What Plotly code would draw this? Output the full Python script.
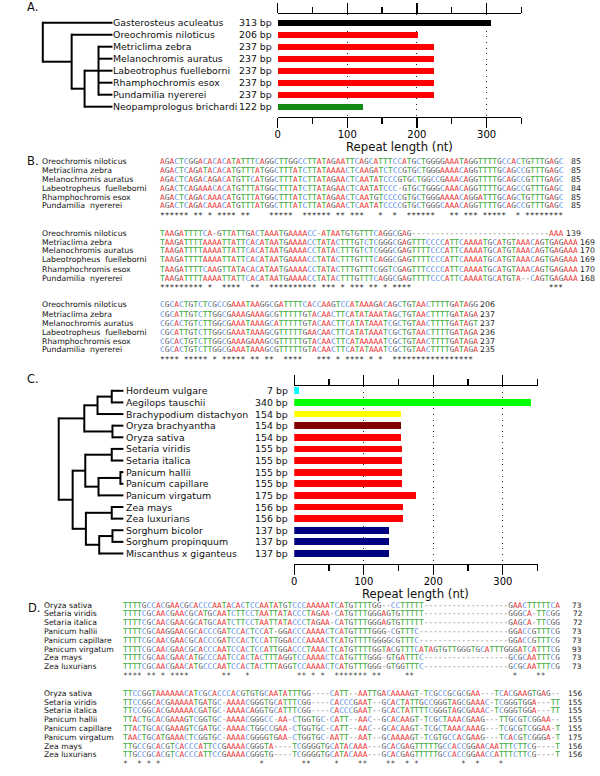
import plotly.graph_objects as go

W, H = 600, 776
SANS = "DejaVu Sans"
MONO = "DejaVu Sans Mono"

# ---------------- Panel A data ----------------
a_species = ["Gasterosteus aculeatus", "Oreochromis niloticus", "Metriclima zebra",
             "Melanochromis auratus", "Labeotrophus fuelleborni", "Rhamphochromis esox",
             "Pundamilia nyererei", "Neopamprologus brichardi"]
a_bp_labels = [313, 206, 237, 237, 237, 237, 237, 122]
a_bar_len = [306, 202, 224, 224, 224, 224, 224, 122]   # bar lengths as drawn in the picture
a_colors = ["#000000", "#ff0000", "#ff0000", "#ff0000", "#ff0000", "#ff0000", "#ff0000", "#118811"]
# tree topology: (node depth px, children); ints are leaf rows
a_tree = (40, [0, (69, [1, (82, [(96, [2, 3, 4, 5, 6]), 7])])])

# ---------------- Panel C data ----------------
c_species = ["Hordeum vulgare", "Aegilops tauschii", "Brachypodium distachyon", "Oryza brachyantha",
             "Oryza sativa", "Setaria viridis", "Setaria italica", "Panicum hallii",
             "Panicum capillare", "Panicum virgatum", "Zea mays", "Zea luxurians",
             "Sorghum bicolor", "Sorghum propinquum", "Miscanthus x giganteus"]
c_bp = [7, 340, 154, 154, 154, 155, 155, 155, 155, 175, 156, 156, 137, 137, 137]
c_colors = ["#00ffff", "#00ff00", "#ffff00", "#800000"] + ["#ff0000"] * 8 + ["#000080"] * 3
c_tree = (56, [(81.7, [(95, [(109.3, [0, 1]), 2]), (110, [3, 4])]),
               (70, [(82.7, [(109.3, [5, 6]), (96, [(118, [7, 8]), 9])]),
                     (83.3, [(109.3, [10, 11]), (96.7, [(110, [12, 13]), 14])])])])

tick_vals = [0, 100, 200, 300]

# ---------------- Panel B data ----------------
b_names = ["Oreochromis niloticus", "Metriaclima zebra", "Melanochromis auratus",
           "Labeotropheus  fuelleborni", "Rhamphochromis esox", "Pundamilia  nyererei"]
b_block1 = [
    "AGACTCGGACACACATATTTCAGGCTTG" + "GCCTTATAGAATTCAGCATTTCCATGCTGGGGAAATAGGTTTTGCCACTGTTTGAGC",
    "AGACTCAGATACACATGTTTATGGCTTT" + "ATCTTATAAAACTCAAGATCTCCGTGCTGGGAAAACAGGTTTTGCAGCCGTTTGAGC",
    "AGACTCAGACAGACATGTTCATGGCTTT" + "ATCTTATAGAACTCAATATCCCGTGCTGGCCGAAACAGGTTTTGCAGCCGTTTGAGC",
    "AGACTCAGAAACACATGTTTATGGCTTT" + "ATCTTATAGAACTCAATATCCC-GTGCTGGGCAAACAGGTTTTGCAGCCGTTTGAGC",
    "AGACTCAGACAAACATGTTTATGGCTTT" + "ATCTTATAGAACTCAATGTCCCCGTGCTGGGAAAACAGGATTTGCAGCTGTTTGAGC",
    "AGACTCAGACAAACATGTTTATGGCTTT" + "ATCTTATAGAACTCAATATCCCCGTGCTGGGCAAACAGGTTTTGCAGCCGTTTGAGC",
]
b_block1_end = [85, 85, 85, 84, 85, 85]
b_block1_stars = [(0, 5), (7, 8), (10, 10), (12, 15), (17, 18), (23, 27), (30, 35), (37, 38),
                  (40, 42), (46, 46), (49, 49), (52, 57), (61, 62), (64, 66), (68, 72), (75, 75), (77, 84)]
b_block2 = [
    "TAAGATTTTCA-GTTATTGACTAAATGA" + "AAACC-ATAATGTGTTTCAGGCGAG" + "-----------------------------" + "AAA",
    "TAAGATTTTAAAATTATTCACATAATGA" + "AAACCTATACTTTGTCTCGGGCGAG" + "TTTCCCCATTCAAAATGCATGTAAACAGTGAGAAA",
    "TAAGATTTTAAAATTATTCACATAATGA" + "AAACCTATACTTTGTCTCGGGCGAG" + "TTTTCCCATTCAAAATGCATGTAAACAGTGAGAAA",
    "TAAGATTTTAAAATTATTCACATAATGA" + "AAACCTATACTTTGTTTCAGGCGAG" + "TTTTCCCATTCAAAATGCATGTAAACAGTGAGAAA",
    "TAAGATTTTCAAGTTATACACATAATGA" + "AAACCTATACTTTGTTTCGGTCGAG" + "TTTCCCCATTCAAAATGCATGTAAACAGTGAGAAA",
    "TAAGATTTTAAAATTATTCACATAATGA" + "AAACCTATACTTTGTTTCAGGCGAG" + "TTTTCCCATTCAAAATGCATGTA--CAGTGAGAAA",
]
b_block2_end = [139, 169, 170, 169, 170, 168]
b_block2_stars = [(0, 8), (10, 10), (13, 16), (19, 20), (23, 32), (34, 36), (38, 38), (40, 42),
                  (44, 45), (47, 47), (49, 52), (82, 84)]
b_block3 = [
    "CGCACTGTCTCGCCGAAATAAGGCGATT" + "TTCACCAAGTCCATAAAGACAGCTGTAACTTTTGATAGG",
    "CGCATTGTCTTGGCGAAAGAAAGCGTTT" + "TTGTACAACTTCATATAAATAGCTGTAACTTTTGATAGA",
    "CGCACTGTCTTGGCGAAATAAAGCATTT" + "TTGTACAACTTCATATAAATCGCTGTAACTTTTGATAGT",
    "CGCATTGTCTTGGCGAAATAAAGCGTTT" + "TTGAACAACTTCATATAAATCGCTGTAACTTTTGATAGA",
    "CGCACTGTCTTGGCGAAAGAAAGCGTTT" + "TTGTACAACTTCATAAAAATCGCTGTAACTTTTGATAGA",
    "CGCACTGTCTTGGCGAAATAAAGCGTTT" + "TTGTACAACTTCATATAAATCGCTGTAACTTTTGATAGA",
]
b_block3_end = [206, 237, 237, 236, 237, 235]
b_block3_stars = [(0, 3), (5, 9), (11, 11), (13, 17), (19, 20), (22, 23), (26, 29), (33, 35),
                  (37, 37), (39, 42), (44, 44), (46, 46), (49, 65)]

# ---------------- Panel D data ----------------
d_names = ["Oryza sativa", "Setaria viridis", "Setaria italica", "Panicum hallii",
           "Panicum capillare", "Panicum virgatum", "Zea mays", "Zea luxurians"]
d_block1 = [
    "TTTTGCCACGAACGCACCCAATACACTCCAATATGT" + "CCCAAAAATCATGTTTTGG--CCTTTTT" + "------------------" + "GAACTTTTTCA",
    "TTTTCGCAACGAACGCATGCAATCTTCCTAATTATA" + "CCCTAGAA-CATGTTTGGGAGTGTTTTT" + "------------------" + "GGGCA-TTCGG",
    "TTTTCGCAACGAACGCATGCAATCTTCCTAATTATA" + "CCCTAGAA-CATGTTTGGGAGTGTTTTT" + "------------------" + "GAGCA-TTCGG",
    "TTTTCGCAAGGAACGCACCCGATCCACTCCAT-GGA" + "CCCAAAACTCATGTTTTGGG-CGTTTC" + "-------------------" + "GGACCGTTTCG",
    "TTTTCGCAACGAACGCACCCGATCCACTCCATTGGA" + "CCCAAAACTCATGTTTTGGGGCGTTTC" + "-------------------" + "GGACCGTTTCG",
    "TTTTCGCAACGAACGCACCCAATCCACTCCATTGGA" + "CCCTAAACTCATGTTTTGGTACGTTTCATAGTGTTGGGTGCATTTGGGATCATTTCG",
    "TTTTCGCAACGAACATGCCCAATCCACTACTTTAGG" + "TCCAAAACTCATGTTTGGG-GTGATTTC" + "------------------" + "GCGCAATTTCG",
    "TTTTCGCAACGAACATGCCCAATCCACTACTTTAGG" + "TCCAAAACTCATGTTTGGG-GTGGTTTC" + "------------------" + "GCGCAATTTCG",
]
d_block1_end = [73, 72, 72, 73, 73, 93, 73, 73]
d_block1_stars = [(0, 3), (5, 6), (8, 8), (10, 13), (21, 22), (26, 26), (37, 38), (40, 40), (42, 42),
                  (45, 51), (53, 54), (60, 61), (83, 83), (88, 89)]
d_block2 = [
    "TTCCGGTAAAAAACATCGCACCCACGTGTGCAATAT" + "TTGG----CATT--AATTGACAAAAGT-TCGCCGCGCGAA---TCACGAAGTGAG--",
    "TTCCGGCACGAAAAATGATGC-AAAACGGGTGCATT" + "TCGG----CACCCGAAT--GCACTATTGCCGGGTAGCGAAAC-TCGGGTGGA---TT",
    "TTCCGGCACGAAAAACGATGC-AAAACAGGTGCATT" + "TCGG----CACCCGAAT--GCACTATTTTCGGGTAGCGAAAC-TCGGGTGGA---TT",
    "TTACTGCACGAAAGTCGGTGC-AAAACGGGCC-AA-" + "CTGGTGC-CATT--AAC--GCACAAGT-TCGCTAAACGAAG---TTGCGTCGGAA--",
    "TTACTGCACGAAAGTCGATGC-AAAACTGGCCGAA-" + "CTGGTGC-CATT--AAC--GCACAAGT-TCGCTAAACAAAG---TCGCGTCGGAA-T",
    "TAACTGCATGAAACTCGGTGC-AAAACGGGGTGAA-" + "CTGGTGC-AATT--AAT--GCAAAAGT-TCGTGCCACGAAG---TCACGTCGGGA-T",
    "TTGCCGCACGTCACCCATTCCGAAAACGGGTA----" + "TCGGGGTGCATACAAA---GCACGAGTTTTTGCCACCGGAACAATTTCTTCG----T",
    "TTGCCGCACGTCACCCATTCCGAAAACGGGTG----" + "TCGGGGTGCATACAAA---GCACGAGTTTTTGCCACCGGAACCATTTCTTCG----T",
]
d_block2_end = [156, 155, 155, 155, 155, 175, 156, 156]
d_block2_stars = [(0, 0), (3, 3), (5, 5), (7, 7), (29, 29), (38, 39), (45, 45), (50, 51), (56, 57),
                  (60, 60), (62, 62), (72, 72), (75, 75), (80, 80)]

NT_COLORS = {"A": "#ee3030", "C": "#5a8ee6", "G": "#5c5c5c", "T": "#2ea82e", "-": "#7a7a7a", "*": "#222222"}

# ---------------- helpers ----------------
def px(x):
    return x / W


def py(y):
    return 1 - y / H


shapes = []
annotations = []


def text(x, y, s, size, family=SANS, color="#111111", xanchor="left", yanchor="middle"):
    annotations.append(dict(x=px(x), y=py(y), xref="paper", yref="paper", text=s, showarrow=False,
                            xanchor=xanchor, yanchor=yanchor, borderpad=0, borderwidth=0,
                            font=dict(family=family, size=size, color=color)))


def line(x0, y0, x1, y1, w=2):
    shapes.append(dict(type="line", xref="paper", yref="paper", x0=px(x0), y0=py(y0), x1=px(x1), y1=py(y1),
                       line=dict(color="black", width=w)))


def draw_tree(node, row_y, tip_x):
    if isinstance(node, int):
        return tip_x, row_y(node)
    x, kids = node
    pts = [draw_tree(k, row_y, tip_x) for k in kids]
    ys = [p[1] for p in pts]
    for cx, cy in pts:
        line(x, cy, cx, cy)
    line(x, min(ys) - 1, x, max(ys) + 1)
    return x, (min(ys) + max(ys)) / 2


def star_row(n, spans):
    chars = [" "] * n
    for a, b in spans:
        for i in range(a, b + 1):
            chars[i] = "*"
    return "".join(chars)


def seq_html(s):
    out, cur, buf = [], None, ""
    for ch in s:
        col = NT_COLORS.get(ch, "#222222")
        c = "\u00a0" if ch == " " else ch
        if col != cur and buf:
            out.append('<span style="color:%s">%s</span>' % (cur, buf))
            buf = ""
        cur = col
        buf += c
    if buf:
        out.append('<span style="color:%s">%s</span>' % (cur, buf))
    return "".join(out)


# ---------------- layout geometry (pixels) ----------------
A_ROW0, A_STEP = 22.7, 12.0
A_X0, A_X1, A_TOP, A_BOT = 276, 521, 14.0, 116.7
C_ROW0, C_STEP = 390.8, 11.62
C_X0, C_X1, C_TOP, C_BOT = 292.7, 537.3, 386.0, 564.0
X_MAX = 350

fig = go.Figure()
fig.add_trace(go.Bar(x=a_bar_len, y=list(range(len(a_bar_len))), orientation="h",
                     marker=dict(color=a_colors, line=dict(width=0)),
                     width=0.5, xaxis="x", yaxis="y", hoverinfo="skip"))
fig.add_trace(go.Bar(x=c_bp, y=list(range(len(c_bp))), orientation="h",
                     marker=dict(color=c_colors, line=dict(width=0)),
                     width=0.58, xaxis="x2", yaxis="y2", hoverinfo="skip"))


def xaxis_cfg(x0, x1, anchor):
    return dict(domain=[px(x0), px(x1)], range=[0, X_MAX], anchor=anchor,
                showline=True, linecolor="black", linewidth=1.3, mirror="ticks",
                ticks="outside", ticklen=10, tickwidth=1.3, tickcolor="black",
                tickvals=tick_vals, ticktext=[str(v) for v in tick_vals], ticklabelstandoff=-2,
                minor=dict(dtick=50, tick0=0, ticks="outside", ticklen=6, tickwidth=1.3, tickcolor="black", showgrid=False),
                showgrid=True, gridcolor="#222222", gridwidth=1, griddash="1px,4.6px", zeroline=False,
                tickfont=dict(family=SANS, size=10, color="black"), fixedrange=True)


def yaxis_cfg(top, bot, row0, step, anchor):
    return dict(domain=[py(bot), py(top)], range=[(bot - row0) / step, (top - row0) / step], anchor=anchor,
                visible=False, fixedrange=True)


fig.update_layout(
    width=W, height=H, margin=dict(l=0, r=0, t=0, b=0), autosize=False,
    paper_bgcolor="white", plot_bgcolor="rgba(0,0,0,0)", showlegend=False, bargap=0,
    xaxis=xaxis_cfg(A_X0, A_X1, "y"), yaxis=yaxis_cfg(A_TOP, A_BOT, A_ROW0, A_STEP, "x"),
    xaxis2=xaxis_cfg(C_X0, C_X1, "y2"), yaxis2=yaxis_cfg(C_TOP, C_BOT, C_ROW0, C_STEP, "x2"),
)

NAME_SIZE = 9.4

# ---------------- Panel A texts & tree ----------------
text(24, 7, "A.", 11.5)
for i, (nm, bp) in enumerate(zip(a_species, a_bp_labels)):
    y = A_ROW0 + i * A_STEP
    text(111, y, nm, NAME_SIZE)
    text(270.7, y, "%d bp" % bp, NAME_SIZE, xanchor="right")
draw_tree(a_tree, lambda i: A_ROW0 + i * A_STEP, 110)
text((A_X0 + A_X1) / 2, 147, "Repeat length (nt)", 11.7, xanchor="center")

# ---------------- Panel C texts & tree ----------------
text(24, 378.5, "C.", 11.5)
for i, (nm, bp) in enumerate(zip(c_species, c_bp)):
    y = C_ROW0 + i * C_STEP
    text(123.3, y, nm, NAME_SIZE)
    text(286, y, "%d bp" % bp, NAME_SIZE, xanchor="right")
draw_tree(c_tree, lambda i: C_ROW0 + i * C_STEP, 121)
text((C_X0 + C_X1) / 2, 593.5, "Repeat length (nt)", 11.7, xanchor="center")


# ---------------- alignments ----------------
def alignment(names, seqs, ends, stars, name_x, seq_x, y0, step, cw, name_size, gap_cols, num_size):
    fsize = cw / 0.6021
    for i, (nm, s, e) in enumerate(zip(names, seqs, ends)):
        y = y0 + i * step
        text(name_x, y, nm, name_size)
        text(seq_x, y, seq_html(s), fsize, family=MONO)
        text(seq_x + (len(s) + gap_cols) * cw, y, str(e), num_size, xanchor="right", color="#222222")
    ncol = max(len(s) for s in seqs)
    text(seq_x, y0 + len(seqs) * step, seq_html(star_row(ncol, stars)), fsize, family=MONO)


text(24, 161, "B.", 11.5)
B_CW = 4.75
alignment(b_names, b_block1, b_block1_end, b_block1_stars, 39.3, 157.7, 161.0, 9.0, B_CW, 7.8, 4, 7.8)
alignment(b_names, b_block2, b_block2_end, b_block2_stars, 39.3, 157.7, 233.0, 9.0, B_CW, 7.8, 4, 7.8)
alignment(b_names, b_block3, b_block3_end, b_block3_stars, 39.3, 157.7, 305.0, 9.0, B_CW, 7.8, 4, 7.8)

text(25, 607.5, "D.", 11.5)
D_CW = 4.70
alignment(d_names, d_block1, d_block1_end, d_block1_stars, 41, 121, 605.0, 8.81, D_CW, 7.7, 5, 7.4)
alignment(d_names, d_block2, d_block2_end, d_block2_stars, 41, 121, 693.3, 8.81, D_CW, 7.7, 5, 7.4)

fig.update_layout(shapes=shapes, annotations=annotations)
fig.write_html("out.html", config={"displayModeBar": False, "staticPlot": True},
               post_script="document.body.style.margin='0px';document.body.style.overflow='hidden';"
                           "document.documentElement.style.overflow='hidden';")
